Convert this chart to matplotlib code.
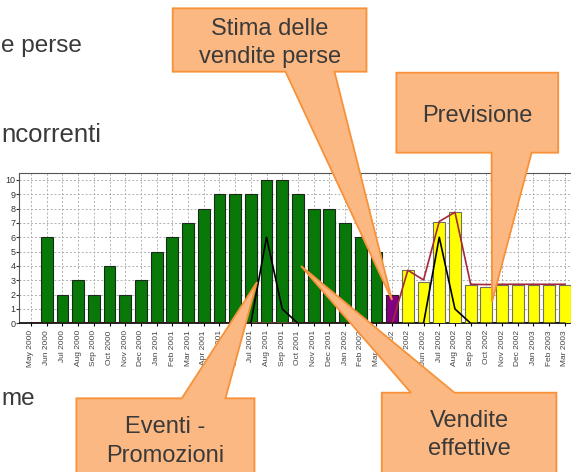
import numpy as np
import matplotlib
matplotlib.use("Agg")
import matplotlib.pyplot as plt
from matplotlib.patches import Polygon

plt.rcParams['font.family'] = ['Liberation Sans', 'DejaVu Sans']

months = ["May 2000", "Jun 2000", "Jul 2000", "Aug 2000", "Sep 2000", "Oct 2000",
          "Nov 2000", "Dec 2000", "Jan 2001", "Feb 2001", "Mar 2001", "Apr 2001",
          "May 2001", "Jun 2001", "Jul 2001", "Aug 2001", "Sep 2001", "Oct 2001",
          "Nov 2001", "Dec 2001", "Jan 2002", "Feb 2002", "Mar 2002", "Apr 2002",
          "May 2002", "Jun 2002", "Jul 2002", "Aug 2002", "Sep 2002", "Oct 2002",
          "Nov 2002", "Dec 2002", "Jan 2003", "Feb 2003", "Mar 2003"]

# vendite effettive (verde), stima vendite perse (viola), previsione (giallo)
actual = [0, 6, 2, 3, 2, 4, 2, 3, 5, 6, 7, 8, 9, 9, 9, 10, 10, 9, 8, 8, 7, 6, 5]
lost = [2.0]
forecast = [3.7, 2.87, 7.06, 7.78, 2.66, 2.56, 2.7, 2.66, 2.66, 2.66, 2.66]

forecast_line = [0] * 24 + [3.7, 3.02, 7.1, 7.75, 2.72, 2.7, 2.72, 2.72, 2.72, 2.72, 2.72]
events_line = [0] * 15 + [6, 1.0, 0] + [0] * 8 + [6, 1.0, 0] + [0] * 6

fig = plt.figure(figsize=(5.71, 4.72), dpi=100)
W, H = 571, 472

ax = fig.add_axes([19.5 / W, 1 - 323.3 / H, 1 - 19.5 / W, (323.3 - 172.7) / H])
x = np.arange(len(months))
n_a = len(actual)
ax.bar(x[:n_a], actual, width=0.75, color="#087808", edgecolor="#1a2a1a", linewidth=0.8, zorder=3)
ax.bar(x[n_a:n_a + 1], lost, width=0.75, color="#800080", edgecolor="#2a1a2a", linewidth=0.8, zorder=3)
ax.bar(x[n_a + 1:], forecast, width=0.75, color="#ffff00", edgecolor="#707060", linewidth=0.8, zorder=3)
ax.plot(x, forecast_line, color="#a3283a", linewidth=1.2, zorder=4)
ax.plot(x, events_line, color="black", linewidth=1.2, zorder=5)

ax.set_xlim(-0.732, 34.39)
ax.set_ylim(0, 10.5)
ax.set_yticks(range(0, 11))
ax.set_xticks(x)
ax.set_xticklabels(months, rotation=90, fontsize=6, color="#444444")
ax.tick_params(axis='y', labelsize=6.5, length=2, pad=1, colors="#333333")
ax.tick_params(axis='x', length=2, pad=3)
ax.grid(True, color="#b0b0b0", linestyle=(0, (2, 2)), linewidth=0.7, zorder=0)
ax.set_axisbelow(True)
ax.spines['right'].set_visible(False)
for s in ['left', 'top']:
    ax.spines[s].set_color("#555555")
ax.spines['bottom'].set_color("black")
ax.spines['bottom'].set_linewidth(1.2)

# overlay in pixel coordinates for slide text and callouts
ov = fig.add_axes([0, 0, 1, 1], zorder=10)
ov.set_xlim(0, W)
ov.set_ylim(H, 0)
ov.axis("off")
ov.patch.set_alpha(0)

txt_col = "#3a3a3a"
ov.text(1, 51.7, "e perse", fontsize=17.5, color=txt_col, va="baseline", ha="left")
ov.text(1, 141.7, "ncorrenti", fontsize=18.5, color=txt_col, va="baseline", ha="left")
ov.text(1, 405, "me", fontsize=17.5, color=txt_col, va="baseline", ha="left")

fill = "#fbb882"
edge = "#f7923a"
callouts = [
    [(172.7, 8.3), (366.5, 8.3), (366.5, 71.7), (334.5, 71.7), (392, 300), (285.5, 71.7), (172.7, 71.7)],
    [(396.4, 72.7), (558.2, 72.7), (558.2, 152.7), (531.6, 152.7), (492, 302), (491.6, 152.7), (396.4, 152.7)],
    [(76.4, 398.3), (181.8, 398.3), (257, 282), (225.5, 398.3), (254.5, 398.3), (254.5, 480), (76.4, 480)],
    [(381.8, 392.7), (410.9, 392.7), (301, 266), (454.5, 392.7), (556.4, 392.7), (556.4, 480), (381.8, 480)],
]
for pts in callouts:
    ov.add_patch(Polygon(pts, closed=True, facecolor=fill, edgecolor=edge, linewidth=1.3, joinstyle="miter"))

labels = [
    (269.6, 35, "Stima delle"), (269.6, 63.3, "vendite perse"),
    (477.3, 121.7, "Previsione"),
    (165.5, 433.3, "Eventi -"), (165.5, 461.7, "Promozioni"),
    (469, 426.7, "Vendite"), (469, 455, "effettive"),
]
for lx, ly, s in labels:
    ov.text(lx, ly, s, fontsize=17, color=txt_col, ha="center", va="baseline")

fig.savefig("out.png", dpi=100)
